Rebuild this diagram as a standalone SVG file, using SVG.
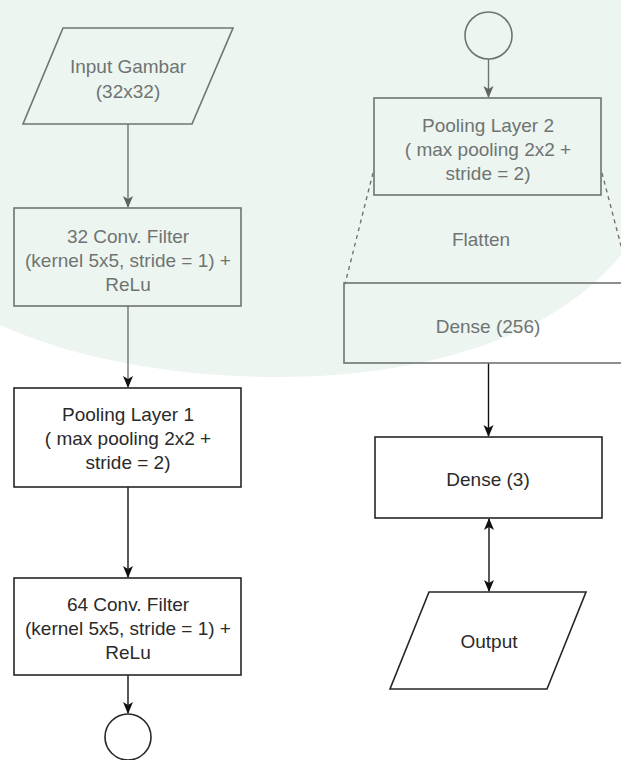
<svg xmlns="http://www.w3.org/2000/svg" width="621" height="760" viewBox="0 0 621 760">
  <style>
    .t { font-family: "Liberation Sans", Arial, sans-serif; font-size: 19px; text-anchor: middle; }
    .tf { fill: #6f7471; }
    .ts { fill: #2a2a2a; }
    .sf { fill: none; stroke: #6f7471; stroke-width: 1.6; }
    .ss { fill: none; stroke: #262626; stroke-width: 1.6; }
    .cf { fill: none; stroke: #6f7471; stroke-width: 1.4; }
    .cs { fill: none; stroke: #111111; stroke-width: 1.4; }
    .dash { fill: none; stroke: #6f7471; stroke-width: 1.4; stroke-dasharray: 4 4; }
  </style>
  <defs>
    <marker id="arrF" viewBox="0 0 12 12" refX="11" refY="6" markerWidth="12" markerHeight="12" markerUnits="userSpaceOnUse" orient="auto-start-reverse">
      <path d="M0,1 L12,6 L0,11 L3,6 Z" fill="#5f6461"/>
    </marker>
    <marker id="arrS" viewBox="0 0 12 12" refX="11" refY="6" markerWidth="12" markerHeight="12" markerUnits="userSpaceOnUse" orient="auto-start-reverse">
      <path d="M0,1 L12,6 L0,11 L3,6 Z" fill="#111111"/>
    </marker>
  </defs>

  <rect x="0" y="0" width="621" height="760" fill="#ffffff"/>
  <path d="M0,0 H621 V255 C 560,330 450,368 320,376 C 200,382 80,362 0,325 Z" fill="#edf5f1"/>

  <g id="connectors">
    <line class="cf" x1="128" y1="124" x2="128" y2="207" marker-end="url(#arrF)"/>
    <line class="cf" x1="128" y1="306" x2="128" y2="387" marker-end="url(#arrS)"/>
    <line class="cs" x1="128" y1="487" x2="128" y2="577" marker-end="url(#arrS)"/>
    <line class="cs" x1="128" y1="675" x2="128" y2="713" marker-end="url(#arrS)"/>
    <line class="cf" x1="488.5" y1="59" x2="488.5" y2="97" marker-end="url(#arrF)"/>
    <line class="cs" x1="488.5" y1="363" x2="488.5" y2="436" marker-end="url(#arrS)"/>
    <line class="cs" x1="489" y1="519" x2="489" y2="591" marker-start="url(#arrS)" marker-end="url(#arrS)"/>
    <line class="dash" x1="373" y1="173" x2="345" y2="284"/>
    <line class="dash" x1="602" y1="173" x2="631" y2="284"/>
  </g>

  <g id="input">
    <polygon class="sf" points="63,28 233,28 192,124 23,124"/>
    <text class="t tf" x="128" y="73">Input Gambar</text>
    <text class="t tf" x="128" y="97.5">(32x32)</text>
  </g>

  <g id="conv1">
    <rect class="sf" x="14" y="208" width="227" height="98"/>
    <text class="t tf" x="128" y="242.5">32 Conv. Filter</text>
    <text class="t tf" x="128" y="266.5">(kernel 5x5, stride = 1) +</text>
    <text class="t tf" x="128" y="290.5">ReLu</text>
  </g>

  <g id="pool1">
    <rect class="ss" x="14" y="388" width="227" height="99"/>
    <text class="t ts" x="128" y="421">Pooling Layer 1</text>
    <text class="t ts" x="128" y="445">( max pooling 2x2 +</text>
    <text class="t ts" x="128" y="469">stride = 2)</text>
  </g>

  <g id="conv2">
    <rect class="ss" x="14" y="578" width="227" height="97"/>
    <text class="t ts" x="128" y="611">64 Conv. Filter</text>
    <text class="t ts" x="128" y="635">(kernel 5x5, stride = 1) +</text>
    <text class="t ts" x="128" y="659">ReLu</text>
  </g>

  <g id="connectorA">
    <circle class="ss" cx="128" cy="737" r="23"/>
  </g>

  <g id="connectorB">
    <circle class="sf" cx="488.5" cy="35.5" r="23.5"/>
  </g>

  <g id="pool2">
    <rect class="sf" x="374" y="98" width="227" height="97"/>
    <text class="t tf" x="488" y="132">Pooling Layer 2</text>
    <text class="t tf" x="488" y="156">( max pooling 2x2 +</text>
    <text class="t tf" x="488" y="180">stride = 2)</text>
  </g>

  <g id="flatten">
    <text class="t tf" x="481" y="246">Flatten</text>
  </g>

  <g id="dense256">
    <rect class="sf" x="344" y="283" width="300" height="80"/>
    <text class="t tf" x="488" y="332.5">Dense (256)</text>
  </g>

  <g id="dense3">
    <rect class="ss" x="375" y="437" width="227" height="81"/>
    <text class="t ts" x="488" y="486">Dense (3)</text>
  </g>

  <g id="output">
    <polygon class="ss" points="429,592 586,592 547,689 390,689"/>
    <text class="t ts" x="489" y="648">Output</text>
  </g>
</svg>
